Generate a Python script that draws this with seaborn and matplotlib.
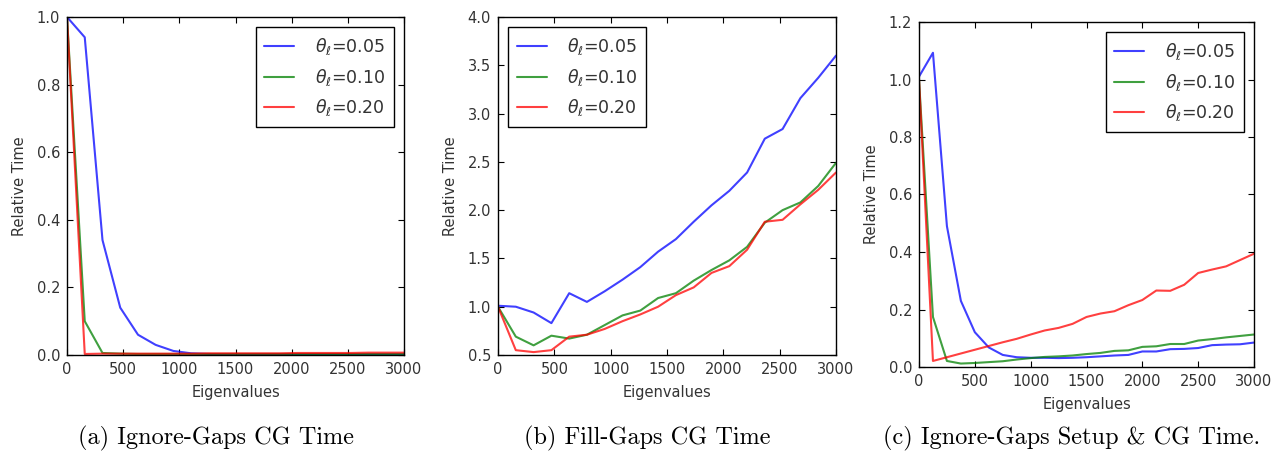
import numpy as np
import pandas as pd
import matplotlib
matplotlib.use("Agg")
import matplotlib.pyplot as plt
import seaborn as sns

# ---------------- data ----------------
labels = [r"$\theta_\ell$=0.05", r"$\theta_\ell$=0.10", r"$\theta_\ell$=0.20"]

x_ab = [0, 158, 316, 474, 632, 789, 947, 1105, 1263, 1421, 1579, 1737,
        1895, 2053, 2211, 2368, 2526, 2684, 2842, 3000]

a_blue = [1.0, 0.94, 0.34, 0.14, 0.06, 0.03, 0.012, 0.005, 0.003, 0.002,
          0.002, 0.002, 0.002, 0.002, 0.002, 0.002, 0.002, 0.002, 0.002, 0.002]
a_green = [1.0, 0.10, 0.006, 0.004, 0.003, 0.003, 0.003, 0.003, 0.003, 0.003,
           0.003, 0.003, 0.003, 0.003, 0.003, 0.003, 0.003, 0.003, 0.003, 0.003]
a_red = [1.0, 0.003, 0.004, 0.004, 0.004, 0.004, 0.004, 0.004, 0.005, 0.005,
         0.005, 0.005, 0.005, 0.006, 0.006, 0.006, 0.006, 0.007, 0.007, 0.007]

b_blue = [1.01, 1.00, 0.94, 0.83, 1.14, 1.05, 1.16, 1.28, 1.41, 1.57,
          1.70, 1.88, 2.05, 2.20, 2.39, 2.74, 2.84, 3.16, 3.37, 3.60]
b_green = [1.00, 0.69, 0.60, 0.70, 0.67, 0.71, 0.81, 0.91, 0.96, 1.09,
           1.14, 1.27, 1.38, 1.48, 1.62, 1.87, 2.00, 2.08, 2.25, 2.49]
b_red = [1.00, 0.55, 0.53, 0.55, 0.69, 0.71, 0.77, 0.85, 0.92, 1.00,
         1.12, 1.20, 1.35, 1.42, 1.59, 1.88, 1.90, 2.06, 2.21, 2.39]

x_c = [0, 125, 250, 375, 500, 625, 750, 875, 1000, 1125, 1250, 1375, 1500,
       1625, 1750, 1875, 2000, 2125, 2250, 2375, 2500, 2625, 2750, 2875, 3000]
c_blue = [1.01, 1.093, 0.49, 0.23, 0.121, 0.068, 0.042, 0.034, 0.032, 0.032,
          0.031, 0.032, 0.034, 0.037, 0.040, 0.042, 0.054, 0.054, 0.062, 0.063,
          0.066, 0.076, 0.078, 0.079, 0.085]
c_green = [1.0, 0.174, 0.021, 0.012, 0.014, 0.017, 0.020, 0.026, 0.031, 0.035,
           0.037, 0.040, 0.045, 0.049, 0.056, 0.058, 0.070, 0.072, 0.080, 0.080,
           0.092, 0.097, 0.103, 0.108, 0.113]
c_red = [1.0, 0.021, 0.034, 0.047, 0.060, 0.073, 0.086, 0.098, 0.113, 0.127,
         0.136, 0.150, 0.174, 0.186, 0.194, 0.215, 0.233, 0.266, 0.265, 0.286,
         0.327, 0.339, 0.350, 0.372, 0.394]

captions = ["(a) Ignore-Gaps CG Time", "(b) Fill-Gaps CG Time",
            "(c) Ignore-Gaps Setup & CG Time."]
ylims = [(0, 1.0), (0.5, 4.0), (0, 1.2)]
ysteps = [0.2, 0.5, 0.2]
xticks = [0, 500, 1000, 1500, 2000, 2500, 3000]

panels = [
    (x_ab, [a_blue, a_green, a_red]),
    (x_ab, [b_blue, b_green, b_red]),
    (x_c, [c_blue, c_green, c_red]),
]

# ---------------- style ----------------
sns.set_style("ticks")
plt.rcParams["font.family"] = ["DejaVu Sans"]
plt.rcParams["mathtext.fontset"] = "dejavusans"
plt.rcParams["xtick.direction"] = "in"
plt.rcParams["ytick.direction"] = "in"

W, H = 1275, 451
fig = plt.figure(figsize=(W / 100, H / 100), dpi=100)
fig.patch.set_facecolor("white")

# axes boxes in pixels: left, top, right, bottom
boxes = [(67, 17, 404, 355), (498, 17, 836, 355), (919, 22, 1254, 367)]
leg_locs = ["upper right", "upper left", "upper right"]
cap_x = [216.5, 647, 1072]
palette = ["#0000ff", "#008000", "#ff0000"]
textc = "#333333"

for i, ((xs, series), (l, t, r, b)) in enumerate(zip(panels, boxes)):
    ax = fig.add_axes([l / W, (H - b) / H, (r - l) / W, (b - t) / H])
    rows = []
    for lab, ys in zip(labels, series):
        for xv, yv in zip(xs, ys):
            rows.append({"Eigenvalues": xv, "Relative Time": yv, "theta": lab})
    df = pd.DataFrame(rows)
    sns.lineplot(data=df, x="Eigenvalues", y="Relative Time", hue="theta",
                 palette=palette, estimator=None, sort=False, ax=ax,
                 linewidth=1.5, alpha=0.75)
    ax.set_xlim(0, 3000)
    ax.set_ylim(*ylims[i])
    ax.set_xticks(xticks)
    lo, hi = ylims[i]
    n = int(round((hi - lo) / ysteps[i]))
    ax.set_yticks([lo + k * ysteps[i] for k in range(n + 1)])
    ax.set_yticklabels([f"{lo + k * ysteps[i]:.1f}" for k in range(n + 1)])
    ax.tick_params(axis="both", which="major", direction="in", length=4,
                   width=0.8, top=True, right=True, labelsize=10.5,
                   labelcolor=textc, color="black", pad=5)
    for sp in ax.spines.values():
        sp.set_visible(True)
        sp.set_color("black")
        sp.set_linewidth(1.0)
    ax.set_xlabel("Eigenvalues", fontsize=10.5, color=textc, labelpad=6)
    ax.set_ylabel("Relative Time", fontsize=10.5, color=textc, labelpad=7)
    handles, labs = ax.get_legend_handles_labels()
    leg = ax.legend(handles, labs, loc=leg_locs[i], fontsize=12.5,
                    frameon=True, fancybox=False, edgecolor="black",
                    framealpha=1, handlelength=1.7, handletextpad=1.2,
                    labelspacing=0.55, borderpad=0.5, borderaxespad=0.6)
    leg.get_frame().set_linewidth(1.0)
    for txt in leg.get_texts():
        txt.set_color(textc)
    fig.text(cap_x[i] / W, 1 - 438 / H, captions[i], ha="center", va="center",
             fontsize=17.5, family="cmr10", color="black")

fig.savefig("out.png", dpi=100, facecolor="white")
